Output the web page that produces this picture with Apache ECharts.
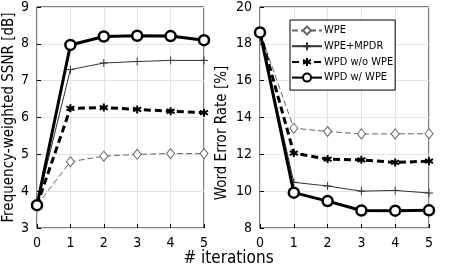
<!DOCTYPE html>
<html><head><meta charset="utf-8">
<script src="https://cdn.jsdelivr.net/npm/echarts@6/dist/echarts.min.js"></script>
<style>html,body{margin:0;padding:0;background:#fff}#c{width:457px;height:270px}</style>
</head><body><div id="c"></div>
<script>
const iterations = [0, 1, 2, 3, 4, 5];
const seriesNames = ['WPE', 'WPE+MPDR', 'WPD w/o WPE', 'WPD w/ WPE'];
const ssnrWPE      = [3.62, 4.80, 4.95, 5.00, 5.02, 5.02];
const ssnrMPDR     = [3.62, 7.30, 7.48, 7.52, 7.55, 7.55];
const ssnrWPDwo    = [3.62, 6.25, 6.27, 6.22, 6.17, 6.13];
const ssnrWPDw     = [3.62, 7.97, 8.20, 8.22, 8.21, 8.10];
const werWPE       = [18.62, 13.42, 13.24, 13.11, 13.11, 13.12];
const werMPDR      = [18.62, 10.48, 10.28, 10.00, 10.04, 9.90];
const werWPDwo     = [18.62, 12.07, 11.74, 11.70, 11.56, 11.63];
const werWPDw      = [18.62, 9.92, 9.46, 8.95, 8.94, 8.96];
const ssnrTicks = [3, 4, 5, 6, 7, 8, 9];
const werTicks = [8, 10, 12, 14, 16, 18, 20];

const font = '"Liberation Sans Narrow", "DejaVu Sans Condensed", "Open Sans"';
const plusSym = 'path://M0,-10L0,10M-10,0L10,0';
const starSym = 'path://M0,-10L0,10M-8.7,-5L8.7,5M-8.7,5L8.7,-5';
const styles = [
  {symbol:'diamond', symbolSize:[8,10], line:{color:'#666', width:1, type:[6,3]}, item:{color:'#fff', borderColor:'#666', borderWidth:1}},
  {symbol:plusSym, symbolSize:8, line:{color:'#333', width:1, type:'solid'}, item:{color:'#333', borderColor:'#333', borderWidth:1}},
  {symbol:starSym, symbolSize:8, line:{color:'#000', width:3, type:[7,4]}, item:{color:'#000', borderColor:'#000', borderWidth:2}},
  {symbol:'circle', symbolSize:10, line:{color:'#000', width:3, type:'solid'}, item:{color:'#fff', borderColor:'#000', borderWidth:2.5}}
];
const ssnrData = [ssnrWPE, ssnrMPDR, ssnrWPDwo, ssnrWPDw];
const werData = [werWPE, werMPDR, werWPDwo, werWPDw];

function mkSeries(data, idx) {
  return data.map((d, i) => ({
    name: seriesNames[i], type: 'line', xAxisIndex: idx, yAxisIndex: idx,
    data: iterations.map((x, j) => [x, d[j]]),
    symbol: styles[i].symbol, symbolSize: styles[i].symbolSize, showAllSymbol: true,
    lineStyle: styles[i].line, itemStyle: styles[i].item, z: 2 + i,
    animation: false, silent: true
  }));
}
const axisCommon = {
  axisLine: {show: false}, axisTick: {show: true, inside: true, length: 4, lineStyle: {color: '#000'}},
  splitLine: {show: true, lineStyle: {color: '#e3e3e3', width: 1}},
  axisLabel: {color: '#000', fontFamily: font, fontSize: 14}
};
function xAx(gi) {
  return Object.assign({}, axisCommon, {type: 'value', gridIndex: gi, min: 0, max: 5, interval: 1,
    axisLabel: Object.assign({}, axisCommon.axisLabel, {margin: 8})});
}
function yAx(gi, min, max, name, gap) {
  return Object.assign({}, axisCommon, {type: 'value', gridIndex: gi, min: min, max: max,
    interval: (max - min) / 6, name: name, nameLocation: 'middle', nameGap: gap,
    nameTextStyle: {color: '#000', fontFamily: font, fontSize: 15},
    axisLabel: Object.assign({}, axisCommon.axisLabel, {margin: 8})});
}
const chart = echarts.init(document.getElementById('c'), null, {renderer: 'canvas'});
chart.setOption({
  backgroundColor: '#fff',
  animation: false,
  grid: [
    {left: 37, right: 253, top: 7, bottom: 42, show: true, borderColor: '#000', borderWidth: 1, backgroundColor: 'transparent'},
    {left: 260, right: 28, top: 7, bottom: 42, show: true, borderColor: '#000', borderWidth: 1, backgroundColor: 'transparent'}
  ],
  xAxis: [xAx(0), xAx(1)],
  yAxis: [yAx(0, 3, 9, 'Frequency-weighted SSNR [dB]', 20), yAx(1, 8, 20, '', 30)],
  legend: {
    data: seriesNames, orient: 'vertical', left: 290, top: 20,
    itemWidth: 30, itemHeight: 10, itemGap: 4.7, padding: [5, 2, 7, 1],
    backgroundColor: '#fff', borderColor: '#000', borderWidth: 1, borderRadius: 0,
    textStyle: {color: '#000', fontFamily: font, fontSize: 11, padding: [0, 0, 0, -3]},
    selectedMode: false
  },
  graphic: [
    {type: 'text', left: 'center', top: 250, style: {text: '# iterations', fill: '#000', font: '17px ' + font}},
    {type: 'text', x: 222, y: 133, rotation: Math.PI / 2,
     style: {text: 'Word Error Rate [%]', fill: '#000', font: '15px ' + font, align: 'center', verticalAlign: 'middle'}}
  ],
  series: mkSeries(ssnrData, 0).concat(mkSeries(werData, 1))
});
</script></body></html>
